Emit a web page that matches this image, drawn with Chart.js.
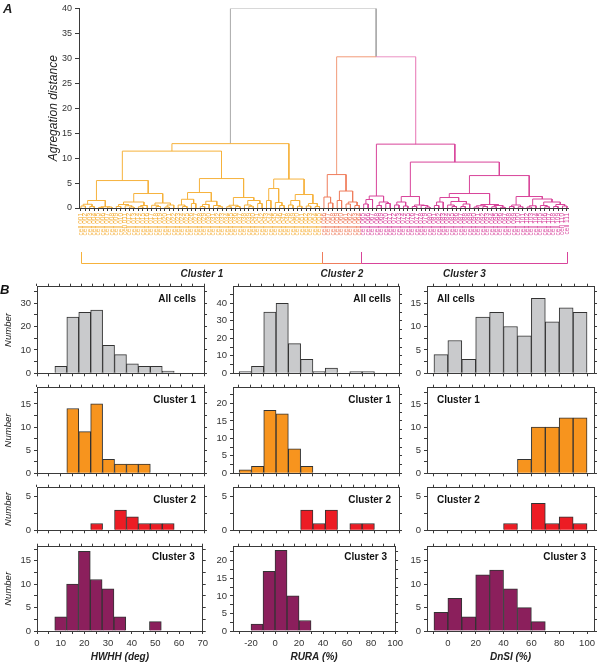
<!DOCTYPE html>
<html>
<head>
<meta charset="utf-8">
<script src="https://cdn.jsdelivr.net/npm/chart.js@4"></script>
<style>
html, body { margin: 0; padding: 0; background: #fff; }
#fig { position: relative; width: 602px; height: 666px; overflow: hidden; }
#fig canvas { position: absolute; }
</style>
</head>
<body>
<div id="fig"></div>
<script>
// ---------- data: dendrogram (panel A) ----------
// a node is [height, left, right]; L is a single cell (leaf)
var L = 0;
var rootHeight = 40;
var join23Height = 30.3;

var cluster1Tree = [12.9,
    [11.4,
        [5.5,
            [1.5, [0.75, [0.4, L, L], [0.3, L, L]], [0.25, [0.12, L, L], [0.2, L, L]]],
            [2.9,
                [1.2, [0.7, [0.3, L, L], [0.45, L, [0.2, L, L]]], [0.5, [0.25, L, L], L]],
                [1.0, [0.55, L, [0.3, L, L]], [0.6, [0.2, L, L], L]]]],
        [5.9,
            [3.1, [1.75, [0.6, L, [0.3, L, L]], [0.9, L, L]], [1.35, [0.7, [0.3, L, L], L], [0.5, L, [0.25, L, L]]]],
            [2.1, [0.55, [0.25, L, L], [0.3, L, L]], [1.5, [0.6, L, [0.35, L, L]], [0.9, L, L]]]]],
    [5.8,
        [3.9, [1.5, L, L], [1.1, L, [0.5, L, L]]],
        [2.7, [1.5, [0.6, L, L], [0.35, L, L]], [0.9, [0.4, L, L], [0.3, L, L]]]]];

var cluster2Tree = [6.7, [2.2, L, [1.0, L, L]], [3.4, [1.5, L, L], [1.2, [0.8, L, L], [0.5, L, L]]]];

var cluster3Tree = [12.8,
    [2.4, [1.7, [0.8, L, L], L], [1.2, [0.5, L, L], [0.9, L, L]]],
    [9.2,
        [2.3, [1.2, [0.6, L, L], [0.4, L, L]], [0.6, [0.3, L, L], [0.5, L, [0.2, L, L]]]],
        [6.5,
            [2.9,
                [2.1, [1.2, [0.5, L, L], L], [1.3, [0.6, L, [0.3, L, L]], [0.8, [0.3, L, L], L]]],
                [0.7, [0.45, [0.2, L, L], [0.3, L, L]], [0.5, [0.25, L, L], [0.15, L, L]]]],
            [2.3,
                [0.6, [0.3, L, L], [0.25, L, L]],
                [1.8, [0.45, [0.2, L, L], L], [1.2, [0.5, L, [0.25, L, L]], [0.7, [0.3, L, L], [0.4, L, L]]]]]]]];

var clusterNames = ['Cluster 1', 'Cluster 2', 'Cluster 3'];

// ---------- data: histograms (panel B) ----------
var hwhhBins = [10, 15, 20, 25, 30, 35, 40, 45, 50, 55];
var hwhhAll = [3, 24, 26, 27, 12, 8, 4, 3, 3, 1];
var hwhhC1 = [0, 14, 9, 15, 3, 2, 2, 2, 0, 0];
var hwhhC2 = [0, 0, 0, 1, 0, 3, 2, 1, 1, 1];
var hwhhC3 = [3, 10, 17, 11, 9, 3, 0, 0, 2, 0];

var ruraBins = [-25, -15, -5, 5, 15, 25, 35, 45, 55, 65, 75];
var ruraAll = [1, 4, 35, 40, 17, 8, 1, 3, 0, 1, 1];
var ruraC1 = [1, 2, 18, 17, 7, 2, 0, 0, 0, 0, 0];
var ruraC2 = [0, 0, 0, 0, 0, 3, 1, 3, 0, 1, 1];
var ruraC3 = [0, 2, 17, 23, 10, 3, 0, 0, 0, 0, 0];

var dnsiBins = [-5, 5, 15, 25, 35, 45, 55, 65, 75, 85, 95];
var dnsiAll = [4, 7, 3, 12, 13, 10, 8, 16, 11, 14, 13];
var dnsiC1 = [0, 0, 0, 0, 0, 0, 3, 10, 10, 12, 12];
var dnsiC2 = [0, 0, 0, 0, 0, 1, 0, 4, 1, 2, 1];
var dnsiC3 = [4, 7, 3, 12, 13, 9, 5, 2, 0, 0, 0];

// ---------- styles ----------
var FONT = '"Liberation Sans", Arial, Helvetica, sans-serif';
var AXIS = '#3a3a3a';
var c1Link = '#F6B23C', c2Link = '#EF7D5C', c3Link = '#D8449A';
var c1Text = '#F5AE36', c2Text = '#EE7A5A', c3Text = '#D6409A';
var joinLeft = '#F29A78', joinRight = '#EC92C4', rootColor = '#A9A9A9';
var grey = '#C9CACC', orange = '#F7941E', red = '#EC1C24', purple = '#8B1F5C';

Chart.defaults.font.family = FONT;
Chart.defaults.color = '#333';

var fig = document.getElementById('fig');

function addCanvas(left, top, width, height) {
    var c = document.createElement('canvas');
    c.width = width;
    c.height = height;
    c.style.left = left + 'px';
    c.style.top = top + 'px';
    c.style.width = width + 'px';
    c.style.height = height + 'px';
    fig.appendChild(c);
    return c;
}

// ---------- panel A ----------
function buildLinks(tree, firstLeaf, links) {
    var next = firstLeaf;
    function walk(node) {
        if (node === L) {
            return {x: next++, y: 0};
        }
        var a = walk(node[1]);
        var b = walk(node[2]);
        links.push({x: a.x, y: a.y}, {x: a.x, y: node[0]}, {x: b.x, y: node[0]},
            {x: b.x, y: b.y}, {x: b.x, y: null});
        return {x: (a.x + b.x) / 2, y: node[0]};
    }
    var top = walk(tree);
    return {top: top, end: next};
}

var links1 = [], links2 = [], links3 = [];
var t1 = buildLinks(cluster1Tree, 0, links1);
var t2 = buildLinks(cluster2Tree, t1.end, links2);
var t3 = buildLinks(cluster3Tree, t2.end, links3);
var leafCount = t3.end;
var mid23 = (t2.top.x + t3.top.x) / 2;

var joinLeftLinks = [{x: t2.top.x, y: t2.top.y}, {x: t2.top.x, y: join23Height}, {x: mid23, y: join23Height}];
var joinRightLinks = [{x: mid23, y: join23Height}, {x: t3.top.x, y: join23Height}, {x: t3.top.x, y: t3.top.y}];
var rootLinks = [{x: t1.top.x, y: t1.top.y}, {x: t1.top.x, y: rootHeight}, {x: mid23, y: rootHeight},
    {x: mid23, y: join23Height}];

var leafNames = [];
for (var i = 0; i < leafCount; i++) {
    leafNames.push('cell ' + String(i + 1).padStart(3, '0'));
}

function leafColor(i) {
    if (i < t1.end) return c1Text;
    if (i < t2.end) return c2Text;
    return c3Text;
}

function linkSet(data, color) {
    return {data: data, showLine: true, borderColor: color, borderWidth: 1, pointRadius: 0, spanGaps: false};
}

var bracketPlugin = {
    id: 'brackets',
    afterDraw: function (chart) {
        var ctx = chart.ctx;
        var xs = chart.scales.x;
        var spans = [[0, t1.end - 0.5, c1Link], [t1.end - 0.5, t2.end - 0.5, c2Link],
            [t2.end - 0.5, leafCount - 1, c3Link]];
        ctx.save();
        ctx.lineWidth = 1;
        spans.forEach(function (s, k) {
            var x0 = Math.round(xs.getPixelForValue(s[0])) + 0.5;
            var x1 = Math.round(xs.getPixelForValue(s[1])) + 0.5;
            ctx.strokeStyle = s[2];
            ctx.beginPath();
            ctx.moveTo(x0, 252);
            ctx.lineTo(x0, 263.5);
            ctx.lineTo(x1, 263.5);
            ctx.lineTo(x1, 252);
            ctx.stroke();
            ctx.fillStyle = '#222';
            ctx.font = 'bold italic 10px ' + FONT;
            ctx.textAlign = 'center';
            ctx.textBaseline = 'middle';
            ctx.fillText(clusterNames[k], (x0 + x1) / 2, 274);
        });
        ctx.font = 'bold italic 13px ' + FONT;
        ctx.textAlign = 'left';
        ctx.fillText('A', 3, 9);
        ctx.restore();
    }
};

new Chart(addCanvas(0, 0, 602, 285), {
    type: 'scatter',
    data: {
        datasets: [
            linkSet(links1, c1Link),
            linkSet(links2, c2Link),
            linkSet(links3, c3Link),
            linkSet(joinLeftLinks, joinLeft),
            linkSet(joinRightLinks, joinRight),
            linkSet(rootLinks, rootColor)
        ]
    },
    options: {
        responsive: false,
        animation: false,
        events: [],
        layout: {padding: {left: 0, top: 8, right: 34, bottom: 0}},
        plugins: {legend: {display: false}, tooltip: {enabled: false}},
        scales: {
            x: {
                type: 'linear',
                min: -0.45,
                max: leafCount - 1 + 0.25,
                afterBuildTicks: function (s) {
                    s.ticks = leafNames.map(function (n, k) { return {value: k}; });
                },
                afterFit: function (s) { s.height = 77; },
                ticks: {
                    autoSkip: false,
                    minRotation: 90,
                    maxRotation: 90,
                    padding: 2,
                    font: {size: 6.5},
                    color: function (c) { return leafColor(c.tick.value); },
                    callback: function (v) { return leafNames[v]; }
                },
                grid: {drawOnChartArea: false, tickLength: 3, color: AXIS},
                border: {color: AXIS}
            },
            y: {
                min: 0,
                max: rootHeight,
                afterFit: function (s) { s.width = 79; },
                ticks: {stepSize: 5, font: {size: 9}, color: '#333', padding: 3},
                grid: {drawOnChartArea: false, tickLength: 4, color: AXIS},
                border: {color: AXIS},
                title: {
                    display: true,
                    text: 'Agregation distance',
                    color: '#222',
                    font: {size: 12, style: 'italic'},
                    padding: {top: 46, bottom: 0}
                }
            }
        }
    },
    plugins: [bracketPlugin]
});

// ---------- panel B ----------
var panelText = {
    id: 'panelText',
    afterDraw: function (chart, args, o) {
        var ctx = chart.ctx;
        var a = chart.chartArea;
        ctx.save();
        ctx.fillStyle = '#111';
        ctx.textBaseline = 'middle';
        ctx.font = 'bold 10px ' + FONT;
        ctx.textAlign = o.align;
        ctx.fillText(o.text, o.align === 'left' ? a.left + 10 : a.right - 8, a.top + o.dy);
        if (o.letter) {
            ctx.font = 'bold italic 13px ' + FONT;
            ctx.textAlign = 'left';
            ctx.fillText(o.letter, 3, 12);
        }
        ctx.restore();
    }
};

function stepTicks(step) {
    return function (scale) {
        var ticks = [];
        for (var v = Math.ceil(scale.min / step - 1e-9) * step; v <= scale.max + 1e-9; v += step) {
            ticks.push({value: v});
        }
        scale.ticks = ticks;
    };
}

function majorLabel(major) {
    return function (v) {
        var q = v / major;
        return Math.abs(q - Math.round(q)) < 1e-6 ? v : '';
    };
}

var cols = [
    {left: 37, width: 167, bins: hwhhBins, min: 0, max: 70, step: 5, major: 10, title: 'HWHH (deg)'},
    {left: 233, width: 166, bins: ruraBins, min: -35, max: 100, step: 10, major: 20, title: 'RURA (%)'},
    {left: 427, width: 167, bins: dnsiBins, min: -15, max: 105, step: 10, major: 20, title: 'DnSI (%)'}
];

var rows = [
    {top: 286, height: 88, text: 'All cells', color: grey, dy: 13,
        series: [hwhhAll, ruraAll, dnsiAll], ymax: [37, 49.5, 18.5], ystep: [5, 5, 2.5], ymajor: [10, 10, 5],
        align: ['right', 'right', 'left']},
    {top: 387, height: 87, text: 'Cluster 1', color: orange, dy: 13,
        series: [hwhhC1, ruraC1, dnsiC1], ymax: [18.5, 24.5, 18.5], ystep: [2.5, 2.5, 2.5], ymajor: [5, 5, 5],
        align: ['right', 'right', 'left']},
    {top: 487, height: 44, text: 'Cluster 2', color: red, dy: 12.5,
        series: [hwhhC2, ruraC2, dnsiC2], ymax: [6.3, 6.3, 6.3], ystep: [2.5, 2.5, 2.5], ymajor: [5, 5, 5],
        align: ['right', 'right', 'left']},
    {top: 546, height: 85, text: 'Cluster 3', color: purple, dy: 11,
        series: [hwhhC3, ruraC3, dnsiC3], ymax: [18, 24, 18], ystep: [2.5, 2.5, 2.5], ymajor: [5, 5, 5],
        align: ['right', 'right', 'right']}
];

function histogram(row, col, r, c) {
    var isBottom = r === rows.length - 1;
    var bottomSpace = isBottom ? 666 - (row.top + row.height) : 8;
    var canvas = addCanvas(col.left - 40, row.top - 8, col.width + 48, row.height + 8 + bottomSpace);
    var counts = row.series[c];
    var points = col.bins.map(function (b, k) {
        return {x: b, y: counts[k] > 0 ? counts[k] : null};
    });
    var edge = {drawOnChartArea: false, tickLength: 3, color: AXIS};

    new Chart(canvas, {
        type: 'bar',
        data: {
            datasets: [{
                data: points,
                backgroundColor: row.color,
                borderColor: '#333',
                borderWidth: 1,
                borderSkipped: 'start',
                barPercentage: 1,
                categoryPercentage: 1
            }]
        },
        options: {
            responsive: false,
            animation: false,
            events: [],
            layout: {padding: 0},
            plugins: {
                legend: {display: false},
                tooltip: {enabled: false},
                panelText: {text: row.text, align: row.align[c], dy: row.dy, letter: r === 0 && c === 0 ? 'B' : ''}
            },
            scales: {
                x: {
                    type: 'linear',
                    position: 'bottom',
                    offset: false,
                    min: col.min,
                    max: col.max,
                    afterBuildTicks: stepTicks(col.step),
                    afterFit: function (s) { s.height = bottomSpace; },
                    ticks: {display: isBottom, autoSkip: false, maxRotation: 0, padding: 4,
                        font: {size: 9.5}, color: '#333', callback: majorLabel(col.major)},
                    grid: {drawOnChartArea: false, tickLength: 3, color: AXIS, offset: false},
                    border: {color: AXIS},
                    title: {display: isBottom, text: col.title, color: '#222',
                        font: {size: 10, weight: 'bold', style: 'italic'}, padding: {top: 0, bottom: 3}}
                },
                x2: {
                    type: 'linear',
                    position: 'top',
                    min: col.min,
                    max: col.max,
                    afterBuildTicks: stepTicks(col.step),
                    afterFit: function (s) { s.height = 8; },
                    ticks: {display: false},
                    grid: edge,
                    border: {color: AXIS}
                },
                y: {
                    min: 0,
                    max: row.ymax[c],
                    afterBuildTicks: stepTicks(row.ystep[c]),
                    afterFit: function (s) { s.width = 40; },
                    ticks: {autoSkip: false, padding: 3, font: {size: 9.5}, color: '#333',
                        callback: majorLabel(row.ymajor[c])},
                    grid: edge,
                    border: {color: AXIS},
                    title: {display: c === 0, text: 'Number', color: '#222',
                        font: {size: 9.5, style: 'italic'}, padding: {top: 6, bottom: 0}}
                },
                y2: {
                    position: 'right',
                    min: 0,
                    max: row.ymax[c],
                    afterBuildTicks: stepTicks(row.ystep[c]),
                    afterFit: function (s) { s.width = 8; },
                    ticks: {display: false},
                    grid: edge,
                    border: {color: AXIS}
                }
            }
        },
        plugins: [panelText]
    });
}

rows.forEach(function (row, r) {
    cols.forEach(function (col, c) {
        histogram(row, col, r, c);
    });
});
</script>
</body>
</html>
